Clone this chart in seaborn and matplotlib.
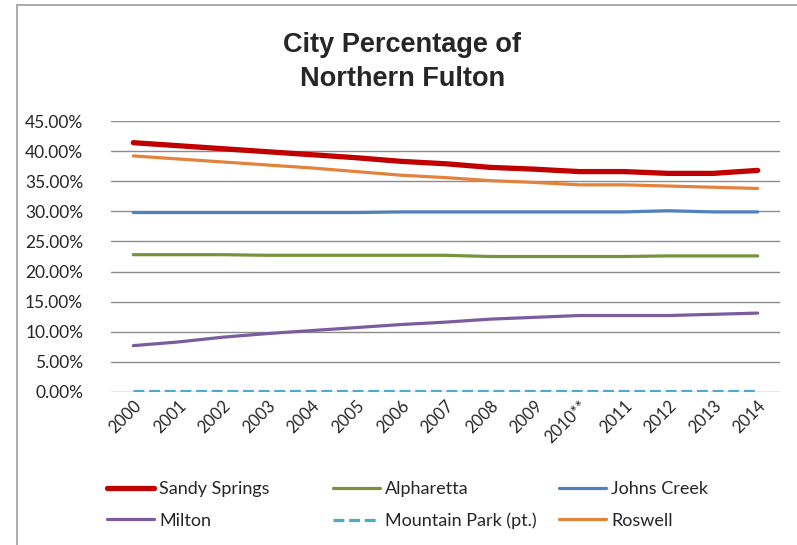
import matplotlib
matplotlib.use('Agg')
import matplotlib.pyplot as plt
import seaborn as sns
import pandas as pd
from matplotlib.lines import Line2D
from matplotlib.ticker import PercentFormatter

years = ["2000", "2001", "2002", "2003", "2004", "2005", "2006", "2007",
         "2008", "2009", "2010**", "2011", "2012", "2013", "2014"]

sandy_springs = [41.4, 40.9, 40.4, 39.9, 39.4, 38.9, 38.3, 37.9, 37.3, 37.0, 36.6, 36.6, 36.3, 36.3, 36.8]
alpharetta = [22.8, 22.8, 22.8, 22.7, 22.7, 22.7, 22.7, 22.7, 22.5, 22.5, 22.5, 22.5, 22.6, 22.6, 22.6]
johns_creek = [29.8, 29.8, 29.8, 29.8, 29.8, 29.8, 29.9, 29.9, 29.9, 29.9, 29.9, 29.9, 30.1, 29.9, 29.9]
milton = [7.7, 8.3, 9.1, 9.7, 10.2, 10.7, 11.2, 11.6, 12.1, 12.4, 12.7, 12.7, 12.7, 12.9, 13.1]
mountain_park = [0.2, 0.2, 0.2, 0.2, 0.2, 0.2, 0.2, 0.2, 0.2, 0.2, 0.2, 0.2, 0.2, 0.2, 0.2]
roswell = [39.2, 38.7, 38.2, 37.7, 37.2, 36.6, 36.0, 35.6, 35.1, 34.8, 34.4, 34.4, 34.2, 34.0, 33.8]

series = {
    "Sandy Springs": sandy_springs,
    "Alpharetta": alpharetta,
    "Johns Creek": johns_creek,
    "Milton": milton,
    "Mountain Park (pt.)": mountain_park,
    "Roswell": roswell,
}

# стили линий
styles = {
    "Sandy Springs": dict(color="#C00000", lw=3.8, ls="-"),
    "Alpharetta": dict(color="#77933C", lw=2.3, ls="-"),
    "Johns Creek": dict(color="#4F81BD", lw=2.3, ls="-"),
    "Milton": dict(color="#7B5C9E", lw=2.3, ls="-"),
    "Mountain Park (pt.)": dict(color="#4BACC6", lw=2.3, ls=(0, (3.4, 1.5))),
    "Roswell": dict(color="#E3823B", lw=2.3, ls="-"),
}

sns.set_theme(style="white")
plt.rcParams['font.family'] = ['Lato', 'DejaVu Sans']

fig = plt.figure(figsize=(7.97, 5.45), dpi=100)
ax = fig.add_axes([111 / 797, 1 - 392 / 545, (780 - 111) / 797, (392 - 121) / 545])

for name, vals in series.items():
    df = pd.DataFrame({"year": years, "value": vals})
    st = styles[name]
    sns.lineplot(data=df, x="year", y="value", ax=ax, sort=False,
                 color=st["color"], linewidth=st["lw"], linestyle=st["ls"],
                 solid_capstyle="round", dash_capstyle="butt", legend=False)

ax.set_xlim(-0.5, len(years) - 0.5)
ax.set_ylim(0, 45)
ax.set_yticks([0, 5, 10, 15, 20, 25, 30, 35, 40, 45])
ax.yaxis.set_major_formatter(PercentFormatter(decimals=2))
ax.grid(True, axis="y", color="#8C8C8C", lw=1)
ax.set_axisbelow(True)
for s in ax.spines.values():
    s.set_visible(False)
ax.set_xlabel("")
ax.set_ylabel("")
ax.tick_params(axis="y", labelsize=12.5, length=0, pad=20)
ax.tick_params(axis="x", labelsize=12, length=0, pad=4)
plt.setp(ax.get_xticklabels(), rotation=45, ha="right", rotation_mode="anchor")

fig.text(0.505, 1 - 62 / 545, "City Percentage of\nNorthern Fulton", ha="center", va="center",
         fontsize=19.5, fontweight="bold", family=["Liberation Sans", "DejaVu Sans"], linespacing=1.38)

# рамка диаграммы
fig.add_artist(Line2D([17 / 797, 17 / 797], [0, 1 - 5 / 545], color="#A0A0A0", lw=1.2))
fig.add_artist(Line2D([17 / 797, 1], [1 - 5 / 545, 1 - 5 / 545], color="#A0A0A0", lw=1.2))

# легенда: три колонки одинаковой ширины, как в Excel
columns = [["Sandy Springs", "Milton"], ["Alpharetta", "Mountain Park (pt.)"], ["Johns Creek", "Roswell"]]
col_x = [107, 333, 559]
for names, x0 in zip(columns, col_x):
    handles = [Line2D([], [], color=styles[n]["color"], lw=styles[n]["lw"], ls=styles[n]["ls"],
                      solid_capstyle="round") for n in names]
    leg = fig.legend(handles, names, loc="center left", bbox_to_anchor=(x0 / 797, 1 - 505 / 545),
                     frameon=False, fontsize=13, handlelength=2.6, handletextpad=0.3,
                     labelspacing=0.85, borderaxespad=0, borderpad=0)

fig.savefig("out.png", dpi=100)
